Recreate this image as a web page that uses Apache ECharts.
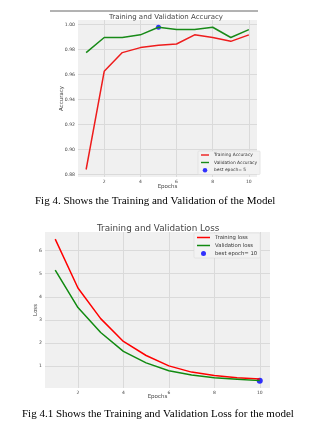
<!DOCTYPE html>
<html><head><meta charset="utf-8">
<script src="https://cdn.jsdelivr.net/npm/echarts@6/dist/echarts.min.js"></script>
<style>html,body{margin:0;padding:0;background:#fff}#c{width:325px;height:425px}</style>
</head><body><div id="c"></div>
<script>
const epochs = [1,2,3,4,5,6,7,8,9,10];
const trainAcc = [0.884,0.9626,0.9776,0.9816,0.9834,0.9845,0.9918,0.9897,0.9866,0.9918];
const valAcc   = [0.9776,0.9897,0.9897,0.9918,0.9979,0.996,0.996,0.9979,0.9897,0.996];
const bestAccEpoch = 5;
const trainLoss = [6.5,4.38,3.05,2.06,1.45,1.0,0.73,0.58,0.49,0.43];
const valLoss   = [5.16,3.53,2.45,1.63,1.13,0.79,0.6,0.48,0.42,0.36];
const bestLossEpoch = 10;
const epochTicks = [2,4,6,8,10];
const accTicks = [0.88,0.90,0.92,0.94,0.96,0.98,1.00];
const lossTicks = [1,2,3,4,5,6];

const pair = (xs, ys) => xs.map((x,i)=>[x, ys[i]]);
const sans = 'DejaVu Sans';
const grid1 = {left:78, top:20, width:179, height:157};
const grid2 = {left:45, top:232, width:225, height:156};
const lineIcon1 = 'path://M0,0h40v7h-40z';
const lineIcon2 = 'path://M0,0h40v4.6h-40z';

function xAxis(gi, gap, margin){
  return {type:'value', gridIndex:gi, min:0.55, max:10.45, name:'Epochs', nameLocation:'middle', nameGap:gap, nameMoveOverlap:false,
    nameTextStyle:{fontFamily:sans,fontSize:5.5,color:'#444'},
    axisLine:{show:false}, axisTick:{show:false, customValues:epochTicks},
    axisLabel:{customValues:epochTicks, fontFamily:sans, fontSize:4.5, color:'#444', margin:margin},
    splitLine:{show:true, lineStyle:{color:'#dadada', width:1}}};
}
function yAxis(gi, min, max, ticks, name, gap, fmt){
  return {type:'value', gridIndex:gi, min:min, max:max, name:name, nameLocation:'middle', nameGap:gap, nameRotate:90, nameMoveOverlap:false,
    nameTextStyle:{fontFamily:sans,fontSize:5.5,color:'#444'},
    axisLine:{show:false}, axisTick:{show:false, customValues:ticks},
    axisLabel:{customValues:ticks, fontFamily:sans, fontSize:4.6, color:'#444', margin:3, formatter:fmt},
    splitLine:{show:true, lineStyle:{color:'#dadada', width:1}}};
}

const chart = echarts.init(document.getElementById('c'), null, {renderer:'canvas'});
chart.setOption({
  animation:false,
  backgroundColor:'#fff',
  title:[
    {text:'Training and Validation Accuracy', left:109, top:13.5, textStyle:{fontFamily:sans,fontSize:7,fontWeight:'normal',color:'#444'}, padding:0},
    {text:'Fig 4. Shows the Training and Validation of the Model', left:35, top:196, textStyle:{fontFamily:'Liberation Serif',fontSize:11,fontWeight:'normal',color:'#000'}, padding:0},
    {text:'Training and Validation Loss', left:97, top:224, textStyle:{fontFamily:sans,fontSize:8.8,fontWeight:'normal',color:'#444'}, padding:0},
    {text:'Fig 4.1 Shows the Training and Validation Loss for the model', left:22, top:409, textStyle:{fontFamily:'Liberation Serif',fontSize:11,fontWeight:'normal',color:'#000'}, padding:0}
  ],
  graphic:[{type:'line', shape:{x1:50,y1:11,x2:258,y2:11}, style:{stroke:'#666', lineWidth:1}}],
  grid:[Object.assign({backgroundColor:'#f0f0f0', show:true, borderWidth:0}, grid1),
        Object.assign({backgroundColor:'#f0f0f0', show:true, borderWidth:0}, grid2)],
  xAxis:[xAxis(0, 7, 2), xAxis(1, 6, 2)],
  yAxis:[yAxis(0, 0.878, 1.0037, accTicks, 'Accuracy', 13, v=>v.toFixed(2)),
         yAxis(1, 0.04, 6.81, lossTicks, 'Loss', 6, v=>String(v))],
  legend:[
    {orient:'vertical', left:198, top:151, padding:[2,3], itemGap:3.5, itemWidth:8, itemHeight:4.5,
     backgroundColor:'#f2f2f2', borderColor:'#d6d6d6', borderWidth:0.5, borderRadius:1,
     textStyle:{fontFamily:sans, fontSize:4.4, color:'#333'},
     data:[{name:'Training Accuracy', icon:lineIcon1},{name:'Validation Accuracy', icon:lineIcon1},{name:'best epoch= 5', icon:'circle'}]},
    {orient:'vertical', left:194, top:233, padding:[2,3], itemGap:3, itemWidth:13, itemHeight:5,
     backgroundColor:'#f2f2f2', borderColor:'#d6d6d6', borderWidth:0.5, borderRadius:1,
     textStyle:{fontFamily:sans, fontSize:5.3, color:'#333'},
     data:[{name:'Training loss', icon:lineIcon2},{name:'Validation loss', icon:lineIcon2},{name:'best epoch= 10', icon:'circle'}]}
  ],
  series:[
    {name:'Training Accuracy', type:'line', xAxisIndex:0, yAxisIndex:0, data:pair(epochs,trainAcc), symbol:'none', lineStyle:{color:'#ee1c1c', width:1.5}, itemStyle:{color:'#ee1c1c'}},
    {name:'Validation Accuracy', type:'line', xAxisIndex:0, yAxisIndex:0, data:pair(epochs,valAcc), symbol:'none', lineStyle:{color:'#188a18', width:1.5}, itemStyle:{color:'#188a18'}},
    {name:'best epoch= 5', type:'scatter', xAxisIndex:0, yAxisIndex:0, data:[[bestAccEpoch, valAcc[bestAccEpoch-1]]], symbolSize:5, itemStyle:{color:'#0000ff'}},
    {name:'Training loss', type:'line', xAxisIndex:1, yAxisIndex:1, data:pair(epochs,trainLoss), symbol:'none', lineStyle:{color:'#ff0000', width:1.5}, itemStyle:{color:'#ff0000'}},
    {name:'Validation loss', type:'line', xAxisIndex:1, yAxisIndex:1, data:pair(epochs,valLoss), symbol:'none', lineStyle:{color:'#108a10', width:1.5}, itemStyle:{color:'#108a10'}},
    {name:'best epoch= 10', type:'scatter', xAxisIndex:1, yAxisIndex:1, data:[[bestLossEpoch, valLoss[bestLossEpoch-1]]], symbolSize:6, itemStyle:{color:'#0000ff'}}
  ]
});
</script></body></html>
